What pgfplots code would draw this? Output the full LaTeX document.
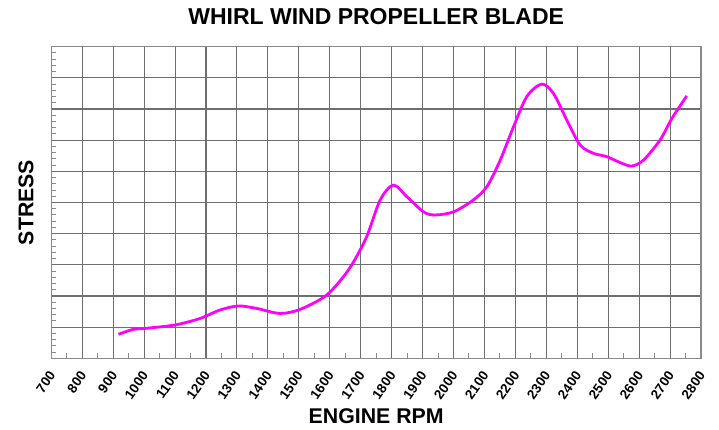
\documentclass[border=0pt]{standalone}
\usepackage{pgfplots}
\pgfplotsset{compat=1.18}
\usepackage{fontspec}
\setmainfont{Liberation Sans}
\definecolor{gridc}{HTML}{6E6E6E}
\definecolor{framec}{HTML}{8A8A8A}
\definecolor{curve}{HTML}{FF00FF}
\begin{document}
\begin{tikzpicture}
\path[use as bounding box] (-51.3pt,-70.7pt) rectangle (667.7pt,358.3pt);
\begin{axis}[
  at={(0,0)}, anchor=south west,
  width=649.7pt, height=311.6pt, scale only axis,
  xmin=700, xmax=2800, ymin=0, ymax=10,
  xtick={700,800,...,2800}, ytick={0,1,...,10},
  yticklabels={},
  minor x tick num=1, minor y tick num=4,
  xtick pos=lower, ytick pos=left,
  tick align=inside,
  major tick length=0pt, minor tick length=5pt,
  every tick/.style={framec, line width=1pt},
  grid=major,
  major grid style={gridc, line width=1.1pt},
  axis line style={framec, line width=1.4pt},
  /pgf/number format/1000 sep={},
  /pgf/number format/assume math mode=true,
  xticklabel style={font=\fontsize{13.5}{15}\selectfont\bfseries, xshift=1pt, yshift=-14.5pt, rotate=55, anchor=east, inner sep=0pt},
  every axis title shift=0pt,
  title={WHIRL WIND PROPELLER BLADE},
  title style={font=\fontsize{23}{26}\selectfont\bfseries, at={(axis description cs:0.5,1)}, anchor=base, yshift=21.7pt, inner sep=0pt},
  xlabel={ENGINE RPM},
  xlabel style={font=\fontsize{21.3}{24}\selectfont\bfseries, at={(axis description cs:0.5,0)}, anchor=base, yshift=-65pt, inner sep=0pt},
  ylabel={STRESS},
  ylabel style={font=\fontsize{21.3}{24}\selectfont\bfseries, at={(axis description cs:0,0.5)}, anchor=base, yshift=18pt, inner sep=0pt},
  clip=false,
]
\addplot[curve, line width=2.8pt, smooth, tension=0.5] coordinates {
(917,0.77) (965,0.93) (1003,0.96) (1100,1.07) (1181,1.28) (1245,1.55)
(1305,1.68) (1364,1.60) (1439,1.44) (1504,1.57) (1590,2.03) (1660,2.83)
(1717,3.85) (1763,5.08) (1806,5.56) (1849,5.19) (1903,4.70) (1940,4.60)
(2000,4.70) (2064,5.08) (2108,5.51) (2151,6.36) (2194,7.43) (2237,8.40)
(2285,8.80) (2323,8.50) (2366,7.65) (2409,6.85) (2452,6.58) (2496,6.47)
(2539,6.28) (2576,6.17) (2614,6.36) (2668,7.01) (2706,7.70) (2754,8.42)
};
\end{axis}
\end{tikzpicture}
\end{document}
